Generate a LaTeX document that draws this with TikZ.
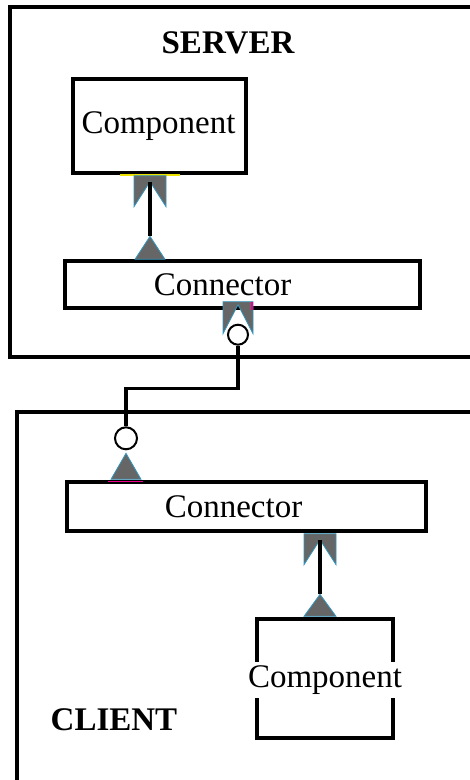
\documentclass[tikz,border=0pt]{standalone}
\usepackage{fontspec}
\setmainfont{Liberation Serif}
\usetikzlibrary{positioning}

\tikzset{
  frame/.style={line width=3.2pt},
  unitbox/.style={draw, line width=3.4pt, inner sep=0pt},
  nametext/.style={font=\fontsize{33}{40}\selectfont},
  titletext/.style={font=\fontsize{33}{40}\selectfont\bfseries},
  plugshape/.style={fill=black!60, draw=cyan!75!black, line width=0.8pt},
  ring/.style={circle, draw, fill=white, line width=2pt, inner sep=0pt},
  link/.style={line width=3.2pt},
}

\begin{document}
\begin{tikzpicture}[x=1pt, y=-1pt]
  \useasboundingbox (0,0) rectangle (470,780);
  \clip (0,0) rectangle (470,780);

  % outer frames, open to the right
  \draw[frame] (490,7) -| (10,357) -- (490,357);
  \draw[frame] (490,412) -| (17,800);
  \node[titletext] (srvtitle) at (228,43) {SERVER};
  \node[titletext] (clttitle) at (114,720) {CLIENT};

  % server side boxes
  \node[unitbox, minimum width=173, minimum height=94] (srvcomp) at (159.5,126) {};
  \node[nametext] (srvcomptext) at ([xshift=-1pt]srvcomp.center) {Component};
  \node[unitbox, minimum width=355, minimum height=47] (srvconn) at (242.5,284.5) {};
  \node[nametext] (srvconntext) at ([xshift=-20pt]srvconn.center) {Connector};

  % client side boxes
  \node[unitbox, minimum width=359, minimum height=49] (cltconn) at (246.5,506.5) {};
  \node[nametext] (cltconntext) at ([xshift=-13pt]cltconn.center) {Connector};
  \node[unitbox, minimum width=136, minimum height=119] (cltcomp) at (325,678.5) {};
  \node[nametext, fill=white, inner sep=4pt] (cltcomptext) at ([yshift=-1.5pt]cltcomp.center) {Component};

  % attachment points
  \coordinate (srvsock) at ([xshift=-9.5pt]srvcomp.south);
  \coordinate (srvplug) at ([xshift=-92.5pt]srvconn.north);
  \coordinate (srvout) at ([xshift=-4.5pt]srvconn.south);
  \coordinate (cltin) at ([xshift=-120.5pt]cltconn.north);
  \coordinate (cltsock) at ([xshift=73.5pt]cltconn.south);
  \coordinate (cltplug) at ([xshift=-5pt]cltcomp.north);

  % coloured edge marks
  \draw[yellow!85!olive, line width=1.6pt] (srvsock) ++(-30,0) -- ++(60,0);
  \draw[magenta, line width=1.4pt] (cltin) ++(-18,1) -- ++(35,0);

  % server: component <- connector
  \filldraw[plugshape] (srvsock) ++(-16,1) -- ++(32,0) -- ++(0,31) -- ++(-16,-25) coordinate (srvsocktip) -- ++(-16,25) -- cycle;
  \filldraw[plugshape] (srvplug) ++(-15,0) -- ++(30,0) -- ++(-15,-23) coordinate (srvplugtip) -- cycle;
  \draw[link] (srvplugtip) -- (srvsocktip);

  % server connector out to client connector
  \filldraw[plugshape] (srvout) ++(-15,-8) -- ++(30,0) -- ++(0,32) -- ++(-15,-29) -- ++(-15,29) -- cycle;
  \draw[magenta, line width=1.4pt] (srvout) ++(14,-8) -- ++(0,8);
  \node[ring, minimum size=20] (srvring) at ([yshift=-25pt]srvout) {};
  \node[ring, minimum size=22] (cltring) at ([yshift=42pt]cltin) {};
  \draw[link] (srvring.south) -- ++(0,43) -| (cltring.north);
  \filldraw[plugshape] (cltin) ++(-15,-1) -- ++(30,0) -- ++(-15,-26) -- cycle;

  % client: connector -> component
  \filldraw[plugshape] (cltsock) ++(-16,1) -- ++(32,0) -- ++(0,31) -- ++(-16,-25) coordinate (cltsocktip) -- ++(-16,25) -- cycle;
  \filldraw[plugshape] (cltplug) ++(-16,-1) -- ++(32,0) -- ++(-16,-22) coordinate (cltplugtip) -- cycle;
  \draw[link] (cltplugtip) -- (cltsocktip);
\end{tikzpicture}
\end{document}
